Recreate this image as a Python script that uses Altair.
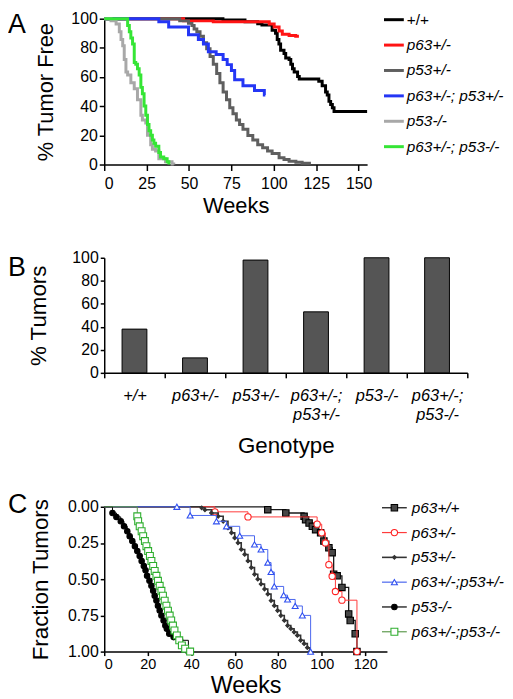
import altair as alt
import pandas as pd

FONT = "Liberation Sans"

# ---------------- Panel A : % tumor free (step curves) ----------------
a_series = ["+/+", "p63+/-", "p53+/-", "p63+/-; p53+/-", "p53-/-", "p63+/-; p53-/-"]
a_colors = ["#000000", "#ff1414", "#5f5f5f", "#2436f5", "#a8a8a8", "#35e535"]

a_wt_weeks = [0, 70, 83, 90.5, 93, 99, 101, 102, 103, 104, 106, 107, 109, 110, 111, 112, 114, 115,
              126.5, 128.5, 130.5, 131.5, 132.5, 133.5, 134.5, 135.5, 155]
a_wt_free = [100, 99.2, 97.9, 96.5, 95.7, 92, 90, 85.8, 82.6, 78.3, 76.2, 73, 72, 68.8, 65.6, 63.5, 60.3, 58.6,
             57.1, 54, 49.7, 47.6, 43.3, 41.2, 39, 36.3, 36.3]

a_p63_weeks = [0, 46.8, 64.3, 97.3, 100.2, 103.1, 105, 109, 112.9, 114.8]
a_p63_free = [100, 98.5, 97.9, 96.4, 94.3, 91.5, 89.4, 88.5, 87.9, 87.9]

a_p53het_weeks = [0, 44.5, 49.7, 51.7, 53, 54.6, 56.5, 58.5, 60.4, 62.4, 64.3, 66.3, 68.2, 70.1, 72.1, 74,
                  75.9, 77.9, 79.8, 81.8, 84.7, 87.6, 90.5, 93.4, 96.3, 99, 103.1, 106, 109, 113, 116.7, 121]
a_p53het_free = [100, 98.5, 96.8, 95.3, 93, 91.1, 87.9, 83.6, 79.4, 74.1, 68.8, 62.4, 56.1, 49.7, 44.4, 39,
                 34.8, 30.6, 27.4, 24.2, 19.9, 16.8, 13.6, 11.5, 9.3, 7.5, 4.7, 3.5, 2.3, 1.5, 0.8, 0]

a_dblhet_weeks = [0, 32.2, 38, 49.7, 55.5, 58.5, 61.4, 66, 70.1, 72.5, 75, 76.9, 81.8, 88.6, 94.4, 95]
a_dblhet_free = [100, 97.9, 94.3, 89, 85.8, 82.6, 77.3, 75.5, 72, 68.5, 64.5, 58.2, 54, 50.8, 47.6, 47.6]

a_p53null_weeks = [0, 4, 7, 8.9, 9.9, 10.9, 11.8, 12.8, 13.8, 15.7, 17.7, 19.6, 21.6, 22.5, 24.5, 25.5,
                   27.4, 28.4, 30.3, 32.2, 36.1, 40, 41]
a_p53null_free = [100, 98.5, 96.4, 91.1, 85.8, 81.5, 72, 63.5, 61.4, 56.1, 51.9, 44.4, 33.8, 30.6, 28.5, 20,
                  13.6, 10.4, 9.3, 4, 1.9, 0.4, 0]

a_dblnull_weeks = [0, 13.8, 14.8, 15.7, 16.7, 17.7, 18.6, 19.6, 20.6, 21.6, 22.5, 23.5, 24.5, 25.5, 26.4,
                   27.4, 28.4, 29.3, 30.3, 32.2, 33.2, 35.1, 37.1, 38.1]
a_dblnull_free = [100, 95.3, 91.1, 86.8, 82.6, 69.9, 68.8, 65.6, 61.4, 52.9, 48.6, 40.1, 33.8, 27.4, 23.1,
                  20, 16.8, 14.6, 12.5, 8.3, 5.1, 4, 1.9, 0]

a_data = [(a_wt_weeks, a_wt_free), (a_p63_weeks, a_p63_free), (a_p53het_weeks, a_p53het_free),
          (a_dblhet_weeks, a_dblhet_free), (a_p53null_weeks, a_p53null_free),
          (a_dblnull_weeks, a_dblnull_free)]

# ---------------- Panel B : % tumors ----------------
b_genotypes = ["+/+", "p63+/-", "p53+/-", "p63+/-; p53+/-", "p53-/-", "p63+/-; p53-/-"]
b_pct = [38, 13, 98, 53, 100, 100]

# ---------------- Panel C : fraction tumors ----------------
c_series = ["p63+/+", "p63+/-", "p53+/-", "p63+/-;p53+/-", "p53-/-", "p63+/-;p53-/-"]

c_wt_weeks = [0, 75.2, 83.5, 91.9, 92.6, 94.2, 95.7, 97.2, 99.5, 101, 103.3, 104.8, 105.5, 107.1, 109.3,
              112.4, 113.1, 115.4, 116.2]
c_wt_frac = [0, 0.02, 0.043, 0.066, 0.089, 0.112, 0.135, 0.158, 0.18, 0.237, 0.283, 0.317, 0.466, 0.477,
             0.557, 0.74, 0.785, 0.877, 1.0]

c_p63_weeks = [0, 50.9, 66.1, 97.9, 100, 101.7, 103.3, 104.8, 106.3, 109.3, 116.2]
c_p63_frac = [0, 0.035, 0.07, 0.12, 0.18, 0.25, 0.40, 0.48, 0.585, 0.645, 1.0]

c_p53het_weeks = [0, 44.8, 46.3, 49.3, 52.4, 54.7, 56.9, 58.5, 60, 61.5, 63, 64.6, 66.1, 67.6, 69.1, 70.6,
                  72.1, 73.7, 75.2, 76.7, 78.2, 79.7, 81.2, 82.8, 84.3, 85.8, 87.3, 88.8, 90.3, 91.9, 93.4, 94.6]
c_p53het_frac = [0, 0.007, 0.021, 0.043, 0.066, 0.10, 0.146, 0.18, 0.215, 0.249, 0.295, 0.329, 0.374, 0.42,
                 0.466, 0.50, 0.534, 0.568, 0.603, 0.648, 0.683, 0.717, 0.751, 0.785, 0.82, 0.842, 0.865,
                 0.888, 0.922, 0.945, 0.973, 1.0]

c_dblhet_weeks = [0, 33.4, 39.5, 51.6, 56.2, 62.3, 69.1, 72.1, 75.2, 76.7, 78.2, 82.5, 84.3, 87.8, 91.1, 94.9]
c_dblhet_frac = [0, 0, 0.06, 0.10, 0.135, 0.20, 0.26, 0.295, 0.385, 0.45, 0.55, 0.61, 0.64, 0.685, 0.75, 1.0]

c_p53null_weeks = [0, 3.8, 5.6, 7.6, 9.1, 10.6, 11.7, 12.9, 14.1, 15.2, 16.3, 17.2, 18.2, 19, 19.7, 20.8,
                   21.7, 22.5, 23.2, 24, 24.7, 25.5, 26.3, 27.3, 28.1, 28.8, 29.9, 31.9, 34.9, 38.7]
c_p53null_frac = [0, 0.043, 0.07, 0.10, 0.135, 0.169, 0.203, 0.237, 0.272, 0.306, 0.34, 0.374, 0.409, 0.438,
                  0.477, 0.511, 0.546, 0.58, 0.614, 0.648, 0.683, 0.717, 0.751, 0.785, 0.82, 0.842, 0.877,
                  0.90, 0.922, 1.0]

c_dblnull_weeks = [0, 15.2, 15.6, 16.3, 17.2, 17.9, 18.7, 19.4, 20.2, 21, 21.7, 22.5, 23.2, 24, 24.7, 25.5,
                   26.3, 27, 27.8, 28.6, 29.3, 30.1, 30.8, 31.6, 32.3, 33.4, 34.5, 35.7, 37.2, 39.5]
c_dblnull_frac = [0, 0.066, 0.10, 0.135, 0.169, 0.203, 0.237, 0.272, 0.306, 0.34, 0.374, 0.409, 0.443,
                  0.477, 0.511, 0.546, 0.58, 0.614, 0.648, 0.683, 0.717, 0.751, 0.785, 0.82, 0.854, 0.888,
                  0.922, 0.957, 0.98, 1.0]

c_data = [(c_wt_weeks, c_wt_frac), (c_p63_weeks, c_p63_frac), (c_p53het_weeks, c_p53het_frac),
          (c_dblhet_weeks, c_dblhet_frac), (c_p53null_weeks, c_p53null_frac),
          (c_dblnull_weeks, c_dblnull_frac)]

# style per C series: line colour, line width, marker shape, fill, stroke, size
c_styles = [
    dict(line="#1a1a1a", lw=1.3, shape="square", fill="#474747", stroke="#000000", size=42),
    dict(line="#ff3b3b", lw=1.0, shape="circle", fill="#ffffff", stroke="#ff2020", size=40),
    dict(line="#333333", lw=1.6, shape="diamond", fill="#333333", stroke="#333333", size=14),
    dict(line="#4a66ee", lw=1.0, shape="triangle-up", fill="#ffffff", stroke="#3050f0", size=36),
    dict(line="#000000", lw=1.0, shape="circle", fill="#000000", stroke="#000000", size=30),
    dict(line="#5d9a4e", lw=1.0, shape="square", fill="#ffffff", stroke="#2fae2f", size=48),
]

# ---------------- layout ----------------
A_W, A_H = 265, 147
B_W, B_H = 366, 116
C_W, C_H = 285, 146


def one(label):
    return pd.DataFrame({"label": [label]})


def letter(t, y):
    return alt.Chart(pd.DataFrame({"t": [t]})).mark_text(
        align="left", baseline="top", fontSize=27, font=FONT, color="#000"
    ).encode(x=alt.value(-97), y=alt.value(y), text="t:N")


# Panel A
xA = alt.X("week:Q", scale=alt.Scale(domain=[0, 155], nice=False),
           axis=alt.Axis(values=[0, 25, 50, 75, 100, 125, 150], title="Weeks", tickSize=6,
                         labelPadding=5, titlePadding=4, labelFontSize=16, titleFontSize=22))
yA = alt.Y("value:Q", scale=alt.Scale(domain=[0, 100], nice=False),
           axis=alt.Axis(values=[0, 20, 40, 60, 80, 100], title="% Tumor Free", tickSize=5,
                         labelPadding=2, titlePadding=13, labelFontSize=16, titleFontSize=22))

a_layers = []
for (wk, val), col in zip(a_data, a_colors):
    df = pd.DataFrame({"week": wk, "value": val})
    a_layers.append(alt.Chart(df).mark_line(interpolate="step-after", color=col, strokeWidth=3)
                    .encode(x=xA, y=yA))
for i, (name, col) in enumerate(zip(a_series, a_colors)):
    ly = 1 + i * 25.6
    a_layers.append(alt.Chart(one(name)).mark_rule(color=col, strokeWidth=3)
                    .encode(x=alt.value(282), x2=alt.value(302), y=alt.value(ly)))
    a_layers.append(alt.Chart(one(name)).mark_text(
        align="left", baseline="middle", fontSize=15.5, font=FONT, color="#000",
        fontStyle="normal" if name == "+/+" else "italic")
        .encode(x=alt.value(305), y=alt.value(ly), text="label:N"))
a_layers.append(letter("A", -7))
panelA = alt.layer(*a_layers).properties(width=A_W, height=A_H)

# Panel B
split_expr = ("indexof(datum.label, '; ') > 0 ? [slice(datum.label, 0, indexof(datum.label, '; ') + 1), "
              "slice(datum.label, indexof(datum.label, '; ') + 2)] : datum.label")
bars = alt.Chart(pd.DataFrame({"genotype": b_genotypes, "pct": b_pct})).mark_bar(
    fill="#555555", stroke="#000000", strokeWidth=1, width=alt.RelativeBandSize(0.41)
).encode(
    x=alt.X("genotype:N", sort=b_genotypes, scale=alt.Scale(paddingInner=0, paddingOuter=0),
            axis=alt.Axis(title="Genotype", labelAngle=0, tickBand="extent", labelExpr=split_expr,
                          labelFontStyle="italic", labelFontSize=16.5, labelLineHeight=19, tickSize=5,
                          labelPadding=10, titlePadding=12, titleFontSize=22.5)),
    y=alt.Y("pct:Q", scale=alt.Scale(domain=[0, 100], nice=False),
            axis=alt.Axis(values=[0, 20, 40, 60, 80, 100], title="% Tumors", tickSize=4,
                          labelPadding=2, titlePadding=22, labelFontSize=16, titleFontSize=22.5)),
)
panelB = alt.layer(bars, letter("B", -3)).properties(width=B_W, height=B_H)

# Panel C
xC = alt.X("week:Q", scale=alt.Scale(domain=[0, 130], nice=False),
           axis=alt.Axis(values=[0, 20, 40, 60, 80, 100, 120], title="Weeks", tickSize=4,
                         labelPadding=2, titlePadding=3, labelFontSize=14.5, titleFontSize=23.5))
yC = alt.Y("frac:Q", scale=alt.Scale(domain=[0, 1], reverse=True, nice=False),
           axis=alt.Axis(values=[0, 0.25, 0.5, 0.75, 1], format=".2f", title="Fraction Tumors",
                         tickSize=4, labelPadding=2, titlePadding=15, labelFontSize=16,
                         titleFontSize=22.5))

c_layers = []
for (wk, fr), st in zip(c_data, c_styles):
    df = pd.DataFrame({"week": wk, "frac": fr})
    base = alt.Chart(df)
    c_layers.append(base.mark_line(interpolate="step-after", color=st["line"], strokeWidth=st["lw"])
                    .encode(x=xC, y=yC))
    c_layers.append(base.transform_filter("datum.week > 0").mark_point(
        shape=st["shape"], fill=st["fill"], stroke=st["stroke"], size=st["size"], opacity=1,
        fillOpacity=1, strokeWidth=1.1).encode(x=xC, y=yC))
for i, (name, st) in enumerate(zip(c_series, c_styles)):
    ly = 1 + i * 25
    c_layers.append(alt.Chart(one(name)).mark_rule(color=st["line"], strokeWidth=max(st["lw"], 1.2))
                    .encode(x=alt.value(280), x2=alt.value(305), y=alt.value(ly)))
    c_layers.append(alt.Chart(one(name)).mark_point(
        shape=st["shape"], fill=st["fill"], stroke=st["stroke"], size=st["size"], opacity=1,
        fillOpacity=1, strokeWidth=1.1).encode(x=alt.value(292.5), y=alt.value(ly)))
    c_layers.append(alt.Chart(one(name)).mark_text(
        align="left", baseline="middle", fontSize=15.5, font=FONT, color="#000", fontStyle="italic")
        .encode(x=alt.value(310), y=alt.value(ly), text="label:N"))
c_layers.append(letter("C", -15))
panelC = alt.layer(*c_layers).properties(width=C_W, height=C_H)

chart = alt.vconcat(panelA, panelB, panelC, spacing=34).properties(
    padding={"left": 0, "right": 0, "top": 0, "bottom": 0}
).configure_view(stroke=None).configure_axis(
    grid=False, domainColor="#000000", tickColor="#000000", labelColor="#000000",
    titleColor="#000000", labelFont=FONT, titleFont=FONT, titleFontWeight="normal",
    domainWidth=1.5, tickWidth=1.5
)

chart.save("out.html", embed_options={"renderer": "svg", "actions": False})
